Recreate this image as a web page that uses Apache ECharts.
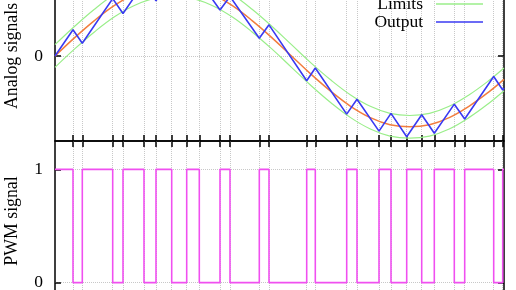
<!DOCTYPE html>
<html><head><meta charset="utf-8">
<script src="https://cdn.jsdelivr.net/npm/echarts@6/dist/echarts.min.js"></script>
<style>html,body{margin:0;padding:0;background:#fff}#c{width:516px;height:290px}</style>
</head><body><div id="c"></div>
<script>
// ---- data (time axis in arbitrary units) ----
const refTime = [0, 19.7, 39.4, 59.1, 78.8, 98.5, 118.3, 138.0, 157.7, 177.4, 197.1, 216.8, 236.5, 256.2, 275.9, 295.6, 315.3, 335.0, 354.8, 374.5, 394.2, 413.9, 433.6, 449];
const refValues = [0, 0.26, 0.50, 0.71, 0.87, 0.97, 1.00, 0.97, 0.87, 0.71, 0.50, 0.26, 0.00, -0.26, -0.50, -0.71, -0.87, -0.97, -1.00, -0.97, -0.87, -0.71, -0.51, -0.33];
const upperLimit = [0.16, 0.42, 0.66, 0.87, 1.03, 1.13, 1.16, 1.13, 1.03, 0.87, 0.66, 0.42, 0.16, -0.10, -0.34, -0.55, -0.71, -0.81, -0.84, -0.81, -0.71, -0.55, -0.35, -0.17];
const lowerLimit = [-0.16, 0.10, 0.34, 0.55, 0.71, 0.81, 0.84, 0.81, 0.71, 0.55, 0.34, 0.10, -0.16, -0.42, -0.66, -0.87, -1.03, -1.13, -1.16, -1.13, -1.03, -0.87, -0.67, -0.49];
const switchTimes = [0, 18, 27.3, 57.7, 68, 89, 101, 116.7, 131.7, 144.3, 165, 175, 204.3, 214, 251.7, 260.3, 291.7, 302, 324, 336, 351.7, 366.7, 379.3, 399.3, 409.7, 438.7, 447.7, 449];
const outputValues = [0, 0.37, 0.18, 0.81, 0.60, 1.03, 0.78, 1.11, 0.80, 1.06, 0.65, 0.84, 0.25, 0.44, -0.35, -0.17, -0.82, -0.61, -1.06, -0.81, -1.14, -0.83, -1.09, -0.68, -0.89, -0.29, -0.48, -0.45];
const pwmValues = [1, 0, 1, 0, 1, 0, 1, 0, 1, 0, 1, 0, 1, 0, 1, 0, 1, 0, 1, 0, 1, 0, 1, 0, 1, 0, 1, 1];
const analogTicks = [0];
const pwmTicks = [0, 1];
const legendNames = ['Reference', 'Limits', 'Output'];
const yNames = ['Analog signals', 'PWM signal'];

const FONT = 'Liberation Serif';
const GRIDC = '#c8c8c8';
const zip = (xs, ys) => xs.map((x, i) => [x, ys[i]]);
const innerTicks = switchTimes.slice(1, -1);

function xAx(gi, pos) {
  return {
    type: 'value', gridIndex: gi, position: pos, min: 0, max: 449,
    axisLine: { show: false, onZero: false },
    axisTick: { show: true, inside: true, length: 6, customValues: innerTicks, lineStyle: { color: '#000', width: 1.5 } },
    axisLabel: { show: false },
    splitLine: { show: true, lineStyle: { color: GRIDC, type: 'dotted', width: 1 } }
  };
}
function yAx(gi, pos, min, max, interval, ticks, name, withLabels, namePad) {
  return {
    type: 'value', gridIndex: gi, position: pos, min: min, max: max, interval: interval,
    name: withLabels ? name : '', nameLocation: 'middle', nameGap: 34,
    nameTextStyle: { fontFamily: FONT, fontSize: 17.8, color: '#000', padding: namePad || 0 },
    axisLine: { show: false, onZero: false },
    axisTick: { show: true, inside: true, length: 6, customValues: ticks, lineStyle: { color: '#000', width: 1.5 } },
    axisLabel: { show: withLabels, customValues: ticks, margin: 12, fontFamily: FONT, fontSize: 17.5, color: '#000',
      formatter: v => (ticks.indexOf(v) >= 0 ? String(v) : '') },
    splitLine: { show: withLabels, lineStyle: { color: GRIDC, type: 'dotted', width: 1 } }
  };
}

const chart = echarts.init(document.getElementById('c'), null, { renderer: 'canvas' });
chart.setOption({
  animation: false,
  backgroundColor: '#fff',
  grid: [
    { left: 55, right: 12, top: -29, height: 170, show: true, borderColor: '#000', borderWidth: 1.5, backgroundColor: 'transparent', outerBoundsMode: 'none', containLabel: false },
    { left: 55, right: 12, top: 141, height: 170, show: true, borderColor: '#000', borderWidth: 1.5, backgroundColor: 'transparent', outerBoundsMode: 'none', containLabel: false }
  ],
  legend: {
    data: legendNames.map(n => ({ name: n, icon: 'rect' })), orient: 'vertical', right: 28, top: -28, align: 'right',
    itemWidth: 47, itemHeight: 1.6, itemGap: 0,
    textStyle: { fontFamily: FONT, fontSize: 17.5, color: '#000', lineHeight: 17.7, padding: [0, 8, 0, 0] }
  },
  xAxis: [xAx(0, 'bottom'), xAx(1, 'top')],
  yAxis: [
    yAx(0, 'left', -1.2, 1.2, 1.2, analogTicks, yNames[0], true),
    yAx(0, 'right', -1.2, 1.2, 1.2, analogTicks, '', false),
    yAx(1, 'left', -0.25, 1.25, 0.25, pwmTicks, yNames[1], true, [0, 0, 0, 10]),
    yAx(1, 'right', -0.25, 1.25, 0.25, pwmTicks, '', false)
  ],
  series: [
    { name: 'Reference', type: 'line', xAxisIndex: 0, yAxisIndex: 0, data: zip(refTime, refValues), smooth: 0.4, symbol: 'none',
      lineStyle: { color: '#f27d3e', width: 1.5 }, itemStyle: { color: '#f27d3e' } },
    { name: 'Limits', type: 'line', xAxisIndex: 0, yAxisIndex: 0, data: zip(refTime, upperLimit), smooth: 0.4, symbol: 'none',
      lineStyle: { color: '#9aee8a', width: 1.2 }, itemStyle: { color: '#9aee8a' } },
    { name: 'Limits', type: 'line', xAxisIndex: 0, yAxisIndex: 0, data: zip(refTime, lowerLimit), smooth: 0.4, symbol: 'none',
      lineStyle: { color: '#9aee8a', width: 1.2 }, itemStyle: { color: '#9aee8a' } },
    { name: 'Output', type: 'line', xAxisIndex: 0, yAxisIndex: 0, data: zip(switchTimes, outputValues), symbol: 'none',
      lineStyle: { color: '#3a3af2', width: 1.6 }, itemStyle: { color: '#3a3af2' } },
    { name: 'PWM', type: 'line', xAxisIndex: 1, yAxisIndex: 2, data: zip(switchTimes, pwmValues), step: 'end', symbol: 'none',
      lineStyle: { color: '#f050f0', width: 1.6 }, itemStyle: { color: '#f050f0' } }
  ]
});
</script></body></html>
